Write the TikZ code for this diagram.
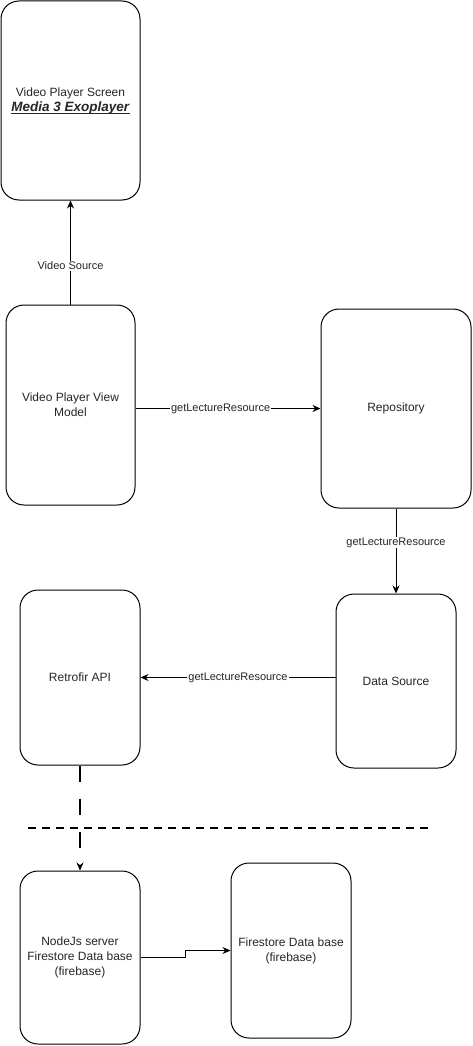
\documentclass[tikz,border=0pt]{standalone}
\usepackage{fontspec}
\setmainfont{Liberation Sans}
\usetikzlibrary{arrows.meta,calc}
\begin{document}
\begin{tikzpicture}[x=1pt,y=-1pt,
  box/.style={draw=black,line width=1pt,rounded corners=18pt,fill=white,align=center,
    font=\fontsize{12}{15}\selectfont,text=black!85,inner sep=2pt},
  arr/.style={draw=black,line width=1pt,-{Stealth[length=8pt,width=7pt]}},
  lbl/.style={fill=white,inner sep=1pt,font=\fontsize{11}{13}\selectfont,text=black!85}]
\useasboundingbox (0,0) rectangle (473,1046);
\node[box,minimum width=139pt,minimum height=199pt] (scr) at (70.5,100.5)
  {Video Player Screen\\{\fontsize{13.5}{15}\selectfont\underline{\smash{\textbf{\textit{Media 3 Exoplayer}}}}}};
\node[box,minimum width=129pt,minimum height=200pt] (vm) at (70.5,405)
  {Video Player View\\Model};
\node[box,minimum width=150pt,minimum height=199pt] (repo) at (396,408.5) {Repository};
\node[box,minimum width=120pt,minimum height=174pt] (ds) at (396,681) {Data Source};
\node[box,minimum width=120pt,minimum height=175pt] (api) at (80,677.5) {Retrofir API};
\node[box,minimum width=120pt,minimum height=173pt] (nodejs) at (80,957.5)
  {NodeJs server\\Firestore Data base\\(firebase)};
\node[box,minimum width=120pt,minimum height=175pt] (fs) at (291,950.5)
  {Firestore Data base\\(firebase)};
\coordinate (dl) at (28,828);
\coordinate (dr) at (432,828);

\draw[arr] (vm.north) -- node[lbl,pos=0.37] {Video Source} (scr.south);
\draw[arr] (vm.east |- repo.west) -- node[lbl,pos=0.46] {getLectureResource} (repo.west);
\draw[arr] (repo.south) -- node[lbl,pos=0.4] {getLectureResource} (ds.north);
\draw[arr] (api.east -| ds.west) -- node[lbl,pos=0.5] {getLectureResource} (api.east);
\draw[line width=1.5pt,dash pattern=on 8pt off 6pt] (dl) -- (dr);
\draw[arr,line width=1.5pt,dash pattern=on 16pt off 17pt] (api.south) -- (nodejs.north);
\draw[arr] (nodejs.east) -| ([xshift=-45pt]fs.west) -- (fs.west);
\end{tikzpicture}
\end{document}
